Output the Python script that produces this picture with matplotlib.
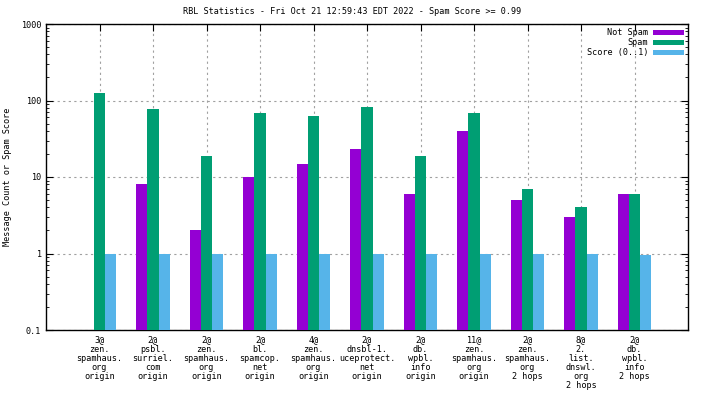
import matplotlib
matplotlib.use("Agg")
import matplotlib.pyplot as plt
import numpy as np
from matplotlib.ticker import LogLocator, FuncFormatter, NullFormatter

categories = [
    "3@\nzen.\nspamhaus.\norg\norigin",
    "2@\npsbl.\nsurriel.\ncom\norigin",
    "2@\nzen.\nspamhaus.\norg\norigin",
    "2@\nbl.\nspamcop.\nnet\norigin",
    "4@\nzen.\nspamhaus.\norg\norigin",
    "2@\ndnsbl-1.\nuceprotect.\nnet\norigin",
    "2@\ndb.\nwpbl.\ninfo\norigin",
    "11@\nzen.\nspamhaus.\norg\norigin",
    "2@\nzen.\nspamhaus.\norg\n2 hops",
    "8@\n2.\nlist.\ndnswl.\norg\n2 hops",
    "2@\ndb.\nwpbl.\ninfo\n2 hops",
]
not_spam = [0, 8, 2, 10, 15, 23, 6, 40, 5, 3, 6]
spam = [126, 78, 19, 69, 63, 83, 19, 69, 7, 4, 6]
score = [1, 1, 1, 1, 1, 1, 1, 1, 1, 1, 0.97]
series_names = ["Not Spam", "Spam", "Score (0..1)"]
colors = ["#9400D3", "#009E73", "#56B4E9"]
title = "RBL Statistics - Fri Oct 21 12:59:43 EDT 2022 - Spam Score >= 0.99"
ylabel = "Message Count or Spam Score"

plt.rcParams['font.family'] = ['DejaVu Sans Mono']
fs = 6.1

fig = plt.figure(figsize=(7.04, 3.96), dpi=100)
ax = fig.add_axes([46/704, 1-330/396, (688-46)/704, (330-24)/396])

x = np.arange(1, len(categories) + 1)
w = 0.21
for i, (vals, name, c) in enumerate(zip([not_spam, spam, score], series_names, colors)):
    ax.bar(x + (i - 1) * w, vals, width=w, color=c, label=name, zorder=3, linewidth=0)

ax.set_yscale('log')
ax.set_ylim(0.1, 1000)
ax.set_xlim(0, 12)
ax.yaxis.set_major_locator(LogLocator(base=10, numticks=10))
ax.yaxis.set_minor_locator(LogLocator(base=10, subs=np.arange(2, 10), numticks=20))
ax.yaxis.set_major_formatter(FuncFormatter(lambda v, p: "%g" % v))
ax.yaxis.set_minor_formatter(NullFormatter())
ax.set_xticks(x)
ax.set_xticklabels(categories, fontsize=fs, linespacing=1.02)
ax.tick_params(axis='both', which='both', direction='in', top=True, right=True, labelsize=fs)
ax.tick_params(axis='y', which='major', length=5)
ax.tick_params(axis='y', which='minor', length=2.5)
ax.tick_params(axis='x', which='major', length=5, pad=4)
ax.grid(True, which='major', axis='both', color='#a0a0a0', linestyle=(0, (2, 3)), linewidth=0.8, zorder=0)
for s in ax.spines.values():
    s.set_linewidth(1.0)

fig.text(0.5, 1 - 12/396, title, ha='center', va='center', fontsize=fs)
fig.text(8/704, 1 - 177/396, ylabel, rotation=90, ha='center', va='center', fontsize=fs)

leg = ax.legend(loc='upper right', markerfirst=False, frameon=False, fontsize=fs,
                handlelength=3.6, handleheight=0.55, handletextpad=0.6, labelspacing=0.12,
                borderaxespad=0.15, borderpad=0.35)
for t in leg.get_texts():
    t.set_ha('right')

fig.savefig("out.png", dpi=100)
